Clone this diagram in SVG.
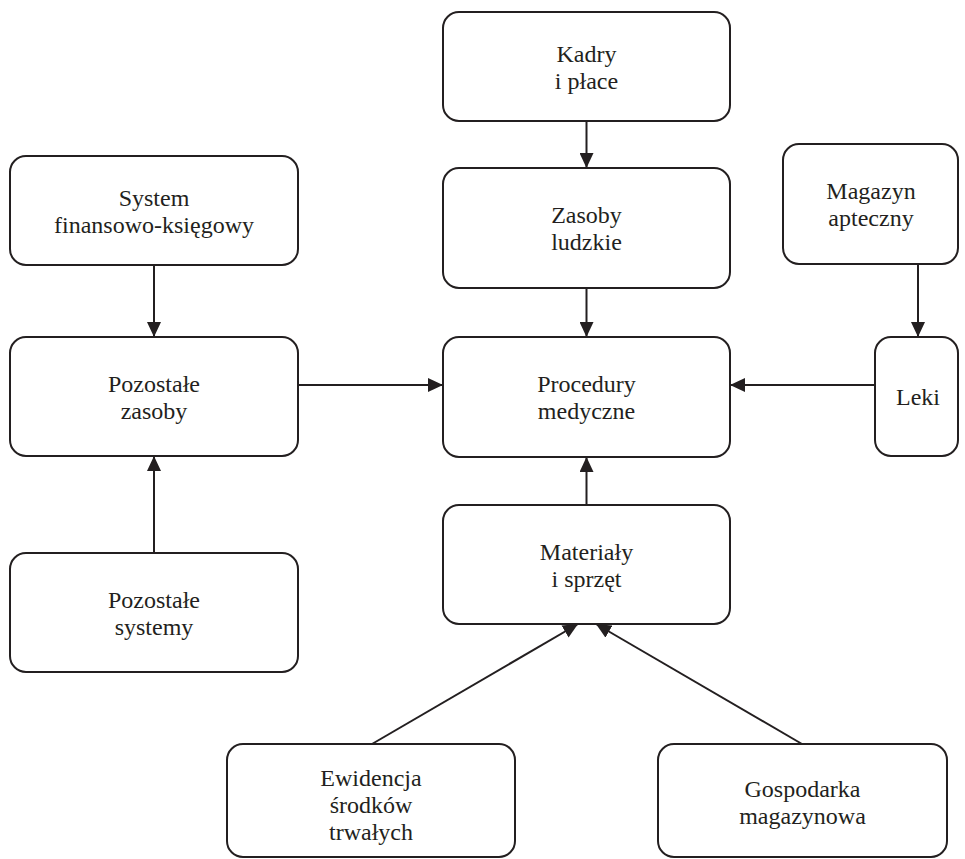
<svg xmlns="http://www.w3.org/2000/svg" width="965" height="859" viewBox="0 0 965 859">
  <style>
    .box { fill: #ffffff; stroke: #231f20; stroke-width: 2; }
    .lbl { font-family: "Liberation Serif", "Times New Roman", serif; font-size: 24px; fill: #231f20; text-anchor: middle; }
    .conn { stroke: #231f20; stroke-width: 2; fill: none; marker-end: url(#arrow); }
  </style>
  <defs>
    <marker id="arrow" markerUnits="userSpaceOnUse" viewBox="0 0 15 14" refX="15" refY="7" markerWidth="15" markerHeight="14" orient="auto">
      <path d="M0,0 L15,7 L0,14 z" fill="#231f20"/>
    </marker>
  </defs>
  <rect width="965" height="859" fill="#ffffff"/>

  <!-- connectors -->
  <g id="connectors">
    <line class="conn" x1="586.5" y1="121" x2="586.5" y2="168"/>
    <line class="conn" x1="586.5" y1="288" x2="586.5" y2="337"/>
    <line class="conn" x1="586.5" y1="505" x2="586.5" y2="457"/>
    <line class="conn" x1="154" y1="265" x2="154" y2="337"/>
    <line class="conn" x1="154" y1="553" x2="154" y2="456"/>
    <line class="conn" x1="298" y1="385" x2="443" y2="385"/>
    <line class="conn" x1="875" y1="385" x2="730" y2="385"/>
    <line class="conn" x1="918" y1="264" x2="918" y2="337"/>
    <line class="conn" x1="372" y1="744" x2="578" y2="624"/>
    <line class="conn" x1="802" y1="744" x2="596" y2="624"/>
  </g>

  <!-- nodes -->
  <g id="kadry">
    <rect class="box" x="443" y="12" width="287" height="109" rx="16"/>
    <text class="lbl" x="586.5" y="62">Kadry</text>
    <text class="lbl" x="586.5" y="89">i płace</text>
  </g>
  <g id="zasoby-ludzkie">
    <rect class="box" x="443" y="168" width="287" height="120" rx="16"/>
    <text class="lbl" x="586.5" y="223">Zasoby</text>
    <text class="lbl" x="586.5" y="250">ludzkie</text>
  </g>
  <g id="procedury">
    <rect class="box" x="443" y="337" width="287" height="120" rx="16"/>
    <text class="lbl" x="586.5" y="392">Procedury</text>
    <text class="lbl" x="586.5" y="419">medyczne</text>
  </g>
  <g id="materialy">
    <rect class="box" x="443" y="505" width="287" height="119" rx="16"/>
    <text class="lbl" x="586.5" y="560">Materiały</text>
    <text class="lbl" x="586.5" y="587">i sprzęt</text>
  </g>
  <g id="system-fk">
    <rect class="box" x="10" y="156" width="288" height="109" rx="16"/>
    <text class="lbl" x="154" y="206">System</text>
    <text class="lbl" x="154" y="233">finansowo-księgowy</text>
  </g>
  <g id="pozostale-zasoby">
    <rect class="box" x="10" y="337" width="288" height="119" rx="16"/>
    <text class="lbl" x="154" y="392">Pozostałe</text>
    <text class="lbl" x="154" y="419">zasoby</text>
  </g>
  <g id="pozostale-systemy">
    <rect class="box" x="10" y="553" width="288" height="119" rx="16"/>
    <text class="lbl" x="154" y="608">Pozostałe</text>
    <text class="lbl" x="154" y="635">systemy</text>
  </g>
  <g id="magazyn">
    <rect class="box" x="783" y="144" width="175" height="120" rx="16"/>
    <text class="lbl" x="871" y="199">Magazyn</text>
    <text class="lbl" x="871" y="226">apteczny</text>
  </g>
  <g id="leki">
    <rect class="box" x="875" y="337" width="83" height="119" rx="16"/>
    <text class="lbl" x="918" y="405">Leki</text>
  </g>
  <g id="ewidencja">
    <rect class="box" x="227" y="744" width="288" height="113" rx="16"/>
    <text class="lbl" x="371" y="786">Ewidencja</text>
    <text class="lbl" x="371" y="813">środków</text>
    <text class="lbl" x="371" y="840">trwałych</text>
  </g>
  <g id="gospodarka">
    <rect class="box" x="658" y="744" width="289" height="113" rx="16"/>
    <text class="lbl" x="802.5" y="797">Gospodarka</text>
    <text class="lbl" x="802.5" y="824">magazynowa</text>
  </g>
</svg>
